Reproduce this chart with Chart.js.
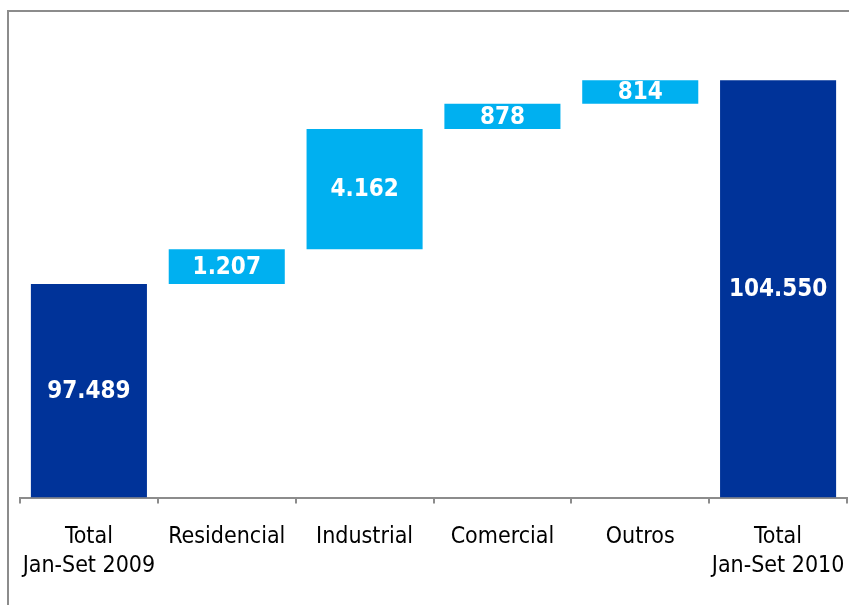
<!DOCTYPE html>
<html>
<head>
<meta charset="utf-8">
<script src="https://cdn.jsdelivr.net/npm/chart.js@4.4.0/dist/chart.umd.min.js"></script>
<style>
  html, body { margin: 0; padding: 0; background: #fff; }
  #wrap { position: relative; width: 849px; height: 605px; overflow: hidden; }
  #frame {
    position: absolute; left: 7px; top: 10px; width: 900px; height: 700px;
    border-top: 2px solid #8c8c8c; border-left: 2px solid #8c8c8c;
  }
  #chart { position: absolute; left: 0; top: 0; }
</style>
</head>
<body>
<div id="wrap">
  <div id="frame"></div>
  <canvas id="chart" width="849" height="605"></canvas>
</div>
<script>
// categorias e variações (GWh)
const categories = [
    ['Total', 'Jan-Set 2009'],
    'Residencial',
    'Industrial',
    'Comercial',
    'Outros',
    ['Total', 'Jan-Set 2010']
];
const startTotal = 97489;
const increments = [1207, 4162, 878, 814];
const endTotal = 104550;

const FONT = "'DejaVu Sans Condensed', 'Liberation Sans', sans-serif";
const navy = '#003399';
const cyan = '#00b0f0';

// monta as barras flutuantes [início, fim]
const floating = [];
const values = [];
floating.push([90100, startTotal]);
values.push(startTotal);
let running = startTotal;
increments.forEach(v => {
    floating.push([running, running + v]);
    values.push(v);
    running += v;
});
floating.push([90100, endTotal]);
values.push(endTotal);

const colors = values.map((v, i) => (i === 0 || i === values.length - 1) ? navy : cyan);

function fmt(n) {
    return String(n).replace(/\B(?=(\d{3})+(?!\d))/g, '.');
}

// escreve o valor no meio de cada barra
const valueLabels = {
    id: 'valueLabels',
    afterDatasetsDraw(chart) {
        const ctx = chart.ctx;
        const meta = chart.getDatasetMeta(0);
        ctx.save();
        ctx.fillStyle = '#ffffff';
        ctx.font = 'bold 24px ' + FONT;
        ctx.textAlign = 'center';
        ctx.textBaseline = 'middle';
        meta.data.forEach((bar, i) => {
            const p = bar.getProps(['x', 'y', 'base'], true);
            ctx.fillText(fmt(values[i]), p.x, (p.y + p.base) / 2 + 1);
        });
        ctx.restore();
    }
};

new Chart(document.getElementById('chart').getContext('2d'), {
    type: 'bar',
    data: {
        labels: categories,
        datasets: [{
            data: floating,
            backgroundColor: colors,
            borderWidth: 0,
            barPercentage: 0.842,
            categoryPercentage: 1.0
        }]
    },
    options: {
        responsive: false,
        animation: false,
        layout: { padding: { left: 20, right: 2, top: 21, bottom: 0 } },
        plugins: {
            legend: { display: false },
            tooltip: { enabled: false }
        },
        scales: {
            x: {
                afterFit: (scale) => {
                    scale.height = 107.5;
                    scale.paddingLeft = 0;
                    scale.paddingRight = 0;
                },
                grid: {
                    offset: true,
                    drawOnChartArea: false,
                    tickLength: 6,
                    color: '#8c8c8c',
                    lineWidth: 2
                },
                border: { color: '#8c8c8c', width: 2 },
                ticks: {
                    color: '#000000',
                    padding: 20,
                    font: { family: FONT, size: 23, lineHeight: 1.22 },
                    maxRotation: 0
                }
            },
            y: {
                display: false,
                min: 90100,
                max: 106600
            }
        }
    },
    plugins: [valueLabels]
});
</script>
</body>
</html>
